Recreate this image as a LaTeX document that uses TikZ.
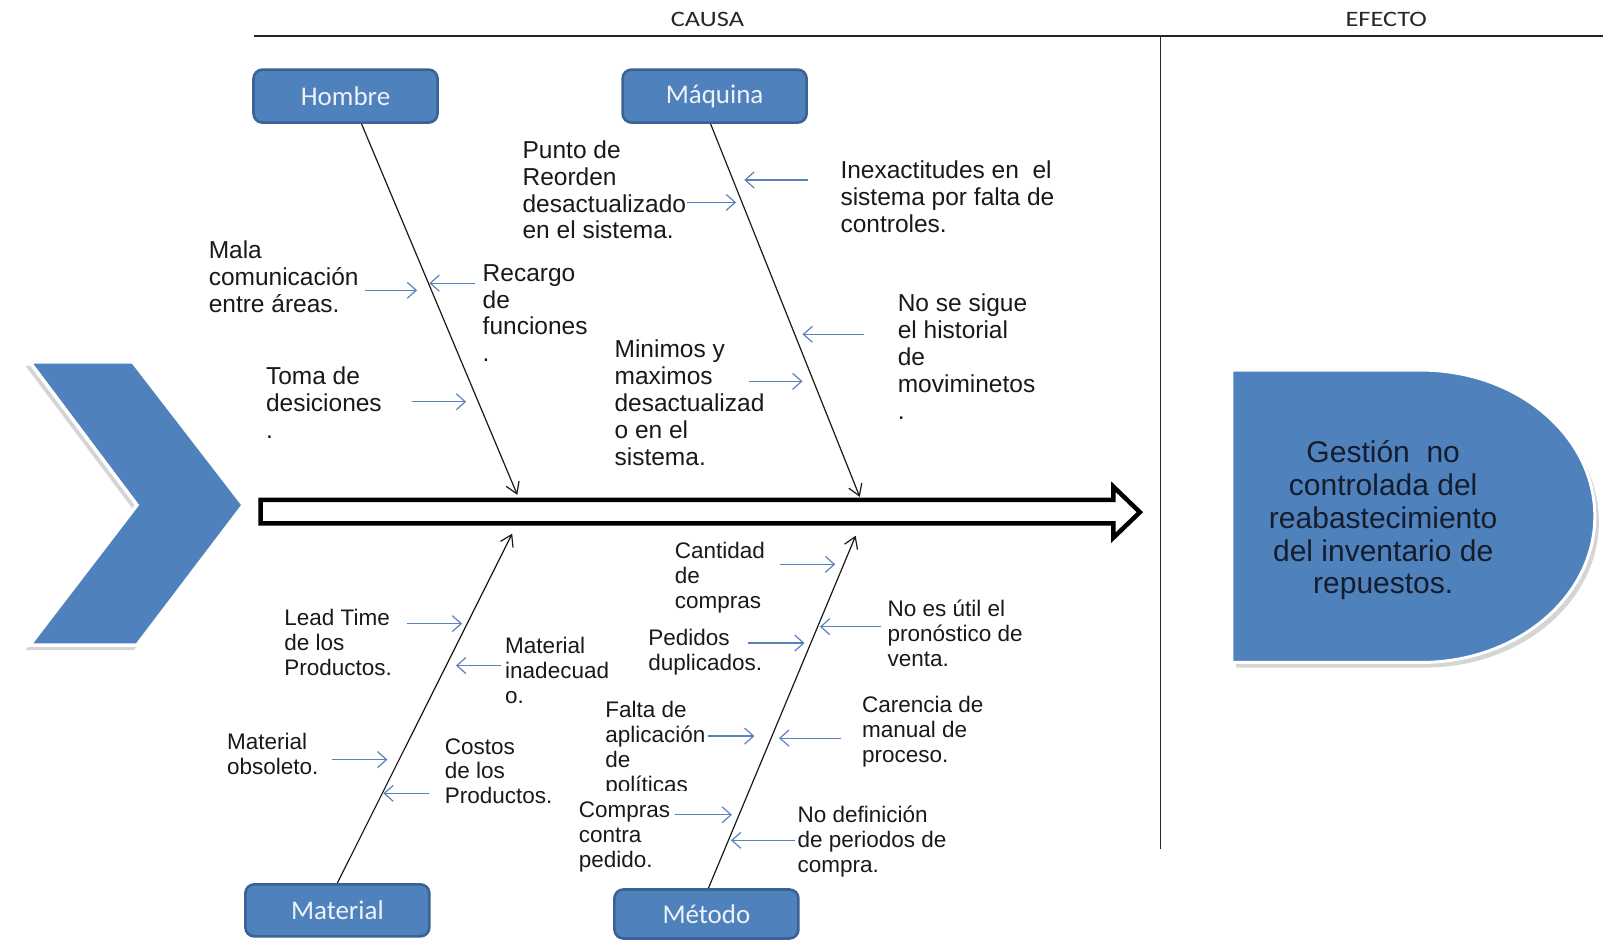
\documentclass[tikz,border=0pt]{standalone}
\usepackage{fontspec}
\setmainfont{Liberation Sans}
\newfontfamily\headfont{Carlito}[FakeStretch=1.2]
\newfontfamily\catfont{Carlito}
\usetikzlibrary{arrows.meta}

\definecolor{catfill}{HTML}{4F81BD}
\definecolor{catedge}{HTML}{3A6294}
\definecolor{twigblue}{HTML}{5A82BA}
\definecolor{cattext}{HTML}{EDF2F9}
\definecolor{effecttext}{HTML}{151D2C}
\definecolor{rulegray}{HTML}{262626}

\begin{document}
\begin{tikzpicture}[x=1.0223pt, y=-1.0223pt,
  rulel/.style={draw=rulegray, line width=1.6pt},
  heading/.style={font=\headfont\fontsize{22}{24}\selectfont, text=black!85, inner sep=0pt},
  catbox/.style={draw=catedge, line width=2.6pt, fill=catfill, rounded corners=9pt,
     minimum width=184pt, inner sep=0pt, text=cattext, font=\catfont\fontsize{27}{30}\selectfont},
  bone/.style={draw=black!90, line width=1.2pt, -{Straight Barb[length=11pt,width=14pt]}},
  twig/.style={draw=twigblue, line width=1.2pt, -{Straight Barb[length=9pt,width=16pt]}},
  hitxt/.style={anchor=north west, align=left, inner sep=0pt, text=black!90,
     font=\fontsize{24.5}{26.8}\selectfont},
  lotxt/.style={anchor=north west, align=left, inner sep=0pt, text=black!90,
     font=\fontsize{22.5}{24.9}\selectfont},
  softshadow/.style={fill=black!30, opacity=0.55},
]
\useasboundingbox (0,0) rectangle (1568,918.5);

% frame: cause / effect columns
\draw[rulel] (248,35) -- (1568,35);
\draw[rulel] (1135,35) -- (1135,830);
\node[heading] (causa) at (692,19) {CAUSA};
\node[heading] (efecto) at (1356,19) {EFECTO};

% chevron on the left
\fill[softshadow] (25,358) -- (128,358) -- (235,498) -- (131,636) -- (25,636) -- (130,498) -- cycle;
\draw[white, line width=3.5pt, fill=catfill, line join=miter]
  (29,354) -- (130,354) -- (238,494) -- (134,631) -- (29,631) -- (134,494) -- cycle;

% spine
\draw[black, line width=4.5pt, fill=white, line join=miter]
  (255,489) -- (1089,489) -- (1089,476) -- (1115,501) -- (1089,526) -- (1089,512) -- (255,512) -- cycle;

% effect head
\fill[softshadow] (1209,367) -- (1394,367) arc[start angle=-90, end angle=90, x radius=170, y radius=143] -- (1209,653) -- cycle;
\draw[white, line width=3pt, fill=catfill]
  (1205,362) -- (1390,362) arc[start angle=-90, end angle=90, x radius=170, y radius=143] -- (1205,648) -- cycle;
\node[align=center, inner sep=0pt, text=effecttext, font=\fontsize{30}{32.7}\selectfont] (effect) at (1353,509)
  {Gestión~ no\\controlada del\\reabastecimiento\\del inventario de\\repuestos.};

% category boxes
\node[catbox, minimum height=53pt] (hombre) at (338,94) {Hombre};
\node[catbox, minimum height=53pt] (maquina) at (699,94) {Máquina};
\node[catbox, minimum height=52pt] (material) at (330,890.5) {Material};
\node[catbox, minimum height=49pt] (metodo) at (691,894) {Método};

% bones
\coordinate (hEnd) at (506,484);
\coordinate (mEnd) at (841,486);
\coordinate (matEnd) at (501,522);
\coordinate (metEnd) at (837,524);
\draw[bone] ([xshift=16pt]hombre.south) -- (hEnd);
\draw[bone] ([xshift=-4pt]maquina.south) -- (mEnd);
\draw[bone] (material.north) -- (matEnd);
\draw[bone] ([xshift=2pt]metodo.north) -- (metEnd);

% causes: Hombre
\node[hitxt] (mala) at (204,235.5) {Mala\\comunicación\\entre áreas.};
\node[hitxt] (recargo) at (472,258.5) {Recargo\\de\\funciones\\.};
\node[hitxt] (toma) at (260,358.5) {Toma de\\desiciones\\.};
\coordinate (a1s) at (357,284); \coordinate (a1e) at (408,284);
\coordinate (a2s) at (465,277); \coordinate (a2e) at (420,277);
\coordinate (a3s) at (403,393); \coordinate (a3e) at (456,393);
\draw[twig] (a1s) -- (a1e);
\draw[twig] (a2s) -- (a2e);
\draw[twig] (a3s) -- (a3e);

% causes: Maquina
\node[hitxt] (punto) at (511,137.5) {Punto de\\Reorden\\desactualizado\\en el sistema.};
\node[hitxt] (inexact) at (822,157.5) {Inexactitudes en~ el\\sistema por falta de\\controles.};
\node[hitxt] (historial) at (878,287.5) {No se sigue\\el historial\\de\\moviminetos\\.};
\node[hitxt] (minimos) at (601,332.5) {Minimos y\\maximos\\desactualizad\\o en el\\sistema.};
\coordinate (a4s) at (672,198); \coordinate (a4e) at (720,198);
\coordinate (a5s) at (790,176); \coordinate (a5e) at (728,176);
\coordinate (a6s) at (845,327); \coordinate (a6e) at (785,327);
\coordinate (a7s) at (733,373); \coordinate (a7e) at (785,373);
\draw[twig] (a4s) -- (a4e);
\draw[twig] (a5s) -- (a5e);
\draw[twig] (a6s) -- (a6e);
\draw[twig] (a7s) -- (a7e);

% causes: Material
\node[lotxt] (lead) at (278,596) {Lead Time\\de los\\Productos.};
\node[lotxt] (inadecuado) at (494,623) {Material\\inadecuad\\o.};
\node[lotxt] (obsoleto) at (222,717) {Material\\obsoleto.};
\node[lotxt] (costos) at (435,722) {Costos\\de los\\Productos.};
\coordinate (a8s) at (398,610); \coordinate (a8e) at (452,610);
\coordinate (a9s) at (490,651); \coordinate (a9e) at (446,651);
\coordinate (a10s) at (325,743); \coordinate (a10e) at (379,743);
\coordinate (a11s) at (420,776); \coordinate (a11e) at (375,776);
\draw[twig] (a8s) -- (a8e);
\draw[twig] (a9s) -- (a9e);
\draw[twig] (a10s) -- (a10e);
\draw[twig] (a11s) -- (a11e);

% causes: Metodo
\node[lotxt] (cantidad) at (660,530) {Cantidad\\de\\compras};
\node[lotxt] (pronostico) at (868,587) {No es útil el\\pronóstico de\\venta.};
\node[lotxt] (pedidos) at (634,615) {Pedidos\\duplicados.};
\begin{scope}
  \clip (580,670) rectangle (700,773);
  \node[lotxt] (falta) at (592,686) {Falta de\\aplicación\\de\\políticas};
\end{scope}
\node[lotxt] (carencia) at (843,681) {Carencia de\\manual de\\proceso.};
\node[lotxt] (compras) at (566,784) {Compras\\contra\\pedido.};
\node[lotxt] (periodos) at (780,788) {No definición\\de periodos de\\compra.};
\coordinate (a12s) at (763,552); \coordinate (a12e) at (817,552);
\coordinate (a13s) at (862,613); \coordinate (a13e) at (802,613);
\coordinate (a14s) at (732,629); \coordinate (a14e) at (787,629);
\coordinate (a15s) at (693,720); \coordinate (a15e) at (738,720);
\coordinate (a16s) at (823,722); \coordinate (a16e) at (762,722);
\coordinate (a17s) at (660,797); \coordinate (a17e) at (716,797);
\coordinate (a18s) at (778,822); \coordinate (a18e) at (715,822);
\draw[twig] (a12s) -- (a12e);
\draw[twig] (a13s) -- (a13e);
\draw[twig] (a14s) -- (a14e);
\draw[twig] (a15s) -- (a15e);
\draw[twig] (a16s) -- (a16e);
\draw[twig] (a17s) -- (a17e);
\draw[twig] (a18s) -- (a18e);
\end{tikzpicture}
\end{document}
